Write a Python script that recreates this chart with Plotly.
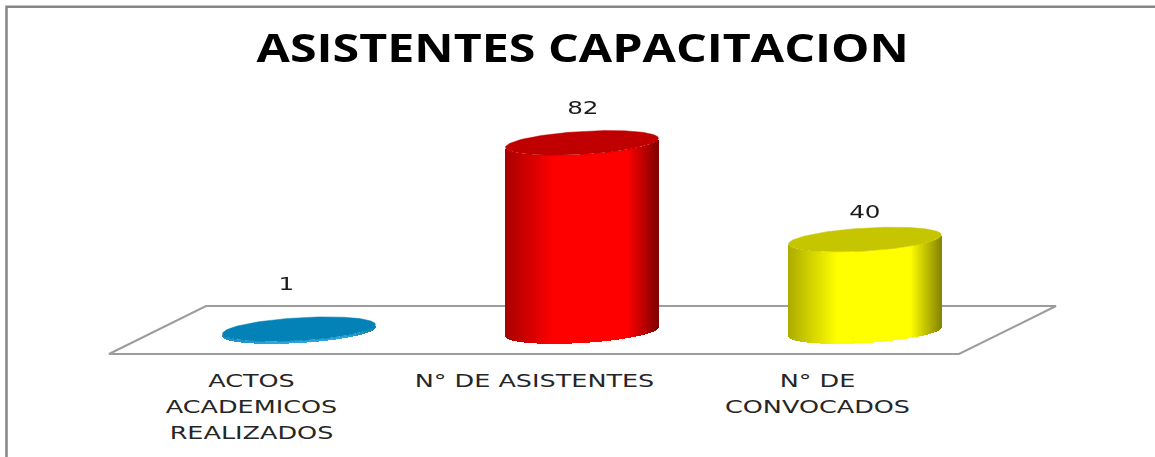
import numpy as np
import plotly.graph_objects as go

categories = ["ACTOS<br>ACADEMICOS<br>REALIZADOS", "N° DE ASISTENTES", "N° DE<br>CONVOCADOS"]
values = [1, 82, 40]
title_text = "ASISTENTES CAPACITACION"
body_bright = ["#2aa6dc", "#ff0000", "#ffff00"]
body_dark = ["#1b7fa8", "#7a0000", "#7f7f00"]
top_colors = ["#0282b6", "#c00000", "#c6c600"]

W, H = 1155, 457
PLOT_B = 360            # px height of plot area
PX_PER_UNIT = 2.3
BASE_PX = 331.5
CAT_PX = 283.0
BAR_X0 = 299.0
LABEL_X0 = 251.5
A = 76.5 / CAT_PX       # half width, x units
MINOR = 11.5 / PX_PER_UNIT
SLOPE = (4.5 / PX_PER_UNIT) / A


def hex2rgb(h):
    return np.array([int(h[i:i + 2], 16) for i in (1, 3, 5)], float)


def shade(t, bright, dark):
    # t in [0,1] across the cylinder
    left = np.clip(t / 0.32, 0, 1)
    right = np.clip((1 - t) / 0.2, 0, 1)
    m = min(0.35 + 0.65 * left, 0.05 + 0.95 * right)
    b, d = hex2rgb(bright), hex2rgb(dark)
    c = d + (b - d) * m
    return "rgb(%d,%d,%d)" % tuple(c)


fig = go.Figure()
# invisible trace keeps the labelled category axis alive
fig.add_trace(go.Scatter(x=[0, 1, 2], y=values, mode="markers", opacity=0,
                         hoverinfo="skip", showlegend=False))
N = 153
for i, (v, br, dk, tc) in enumerate(zip(values, body_bright, body_dark, top_colors)):
    u = (np.arange(N) + 0.5) / N
    dx = (2 * u - 1) * A
    base = SLOPE * dx - MINOR * np.sqrt(np.clip(1 - (dx / A) ** 2, 0, 1))
    fig.add_trace(go.Bar(
        x=i + dx, y=[v] * N, base=base, width=2 * A / N * 1.4,
        marker=dict(color=[shade(t, br, dk) for t in u], line_width=0),
        xaxis="x2", yaxis="y", hoverinfo="skip", showlegend=False))
    th = np.linspace(0, 2 * np.pi, 181)
    ex = A * np.cos(th)
    ey = v + SLOPE * ex + MINOR * np.sin(th)
    fig.add_trace(go.Scatter(
        x=i + ex, y=ey, mode="lines", fill="toself", fillcolor=tc,
        line=dict(color=tc, width=0.5), xaxis="x2", yaxis="y",
        hoverinfo="skip", showlegend=False))

label_offsets = [(-13, 45), (1, 35), (0, 27.5)]
annotations = [
    dict(x=i, y=v, xref="x2", yref="y", text=str(v), showarrow=False,
         xshift=o[0], yshift=o[1], font=dict(family="DejaVu Sans", size=17, color="#1a1a1a"))
    for i, (v, o) in enumerate(zip(values, label_offsets))
]
annotations.append(dict(
    x=582.5 / W, y=1 - 47 / PLOT_B, xref="paper", yref="paper", xanchor="center", yanchor="middle",
    text="<b>%s</b>" % title_text,
    showarrow=False, font=dict(family="Open Sans", size=40, color="#000000")))

grey = "#9c9c9c"
floor = "M %f,%f L %f,%f L %f,%f L %f,%f Z" % (
    109 / W, 1 - 354 / PLOT_B, 206 / W, 1 - 306 / PLOT_B,
    1056 / W, 1 - 306 / PLOT_B, 959 / W, 1 - 354 / PLOT_B)
frame = "M %f,%f L %f,%f L %f,%f" % (
    6.5 / W, 1 - 470 / PLOT_B, 6.5 / W, 1 - 6.8 / PLOT_B, 1170 / W, 1 - 6.8 / PLOT_B)
shapes = [
    dict(type="path", xref="paper", yref="paper", path=floor,
         line=dict(color=grey, width=2), layer="below"),
    dict(type="path", xref="paper", yref="paper", path=frame,
         line=dict(color="#868686", width=2.5), layer="below"),
]

fig.update_layout(
    width=W, height=H, margin=dict(l=0, r=0, t=0, b=H - PLOT_B, pad=0),
    paper_bgcolor="white", plot_bgcolor="rgba(0,0,0,0)",
    barmode="overlay", bargap=0, showlegend=False,
    annotations=annotations, shapes=shapes,
    xaxis=dict(range=[-LABEL_X0 / CAT_PX, (W - LABEL_X0) / CAT_PX],
               tickmode="array", tickvals=list(range(3)), ticktext=categories,
               ticklen=0, showgrid=False, zeroline=False, showline=False,
               ticklabelstandoff=9,
               tickfont=dict(family="DejaVu Sans", size=17, color="#262626")),
    xaxis2=dict(range=[-BAR_X0 / CAT_PX, (W - BAR_X0) / CAT_PX], overlaying="x",
                visible=False),
    yaxis=dict(range=[(BASE_PX - PLOT_B) / PX_PER_UNIT, BASE_PX / PX_PER_UNIT], visible=False),
)

# The reference's text is horizontally stretched; widen the real SVG text to match.
post = """
document.body.style.margin='0';
function stretch(t, f){
  var b = t.getBBox(), c = b.x + b.width/2, old = t.getAttribute('transform') || '';
  t.setAttribute('transform', old + ' translate('+c+',0) scale('+f+',1) translate('+(-c)+',0)');
}
document.querySelectorAll('.xtick text').forEach(function(t){
  t.querySelectorAll('tspan.line').forEach(function(s, k){
    s.setAttribute('dy', (k*26)+'px');
  });
  stretch(t, 1.5);
});
document.querySelectorAll('.annotation-text').forEach(function(t){
  stretch(t, t.textContent.length > 5 ? 1.21 : 1.45);
});
"""
fig.write_html("out.html", config={"displayModeBar": False}, post_script=post)
